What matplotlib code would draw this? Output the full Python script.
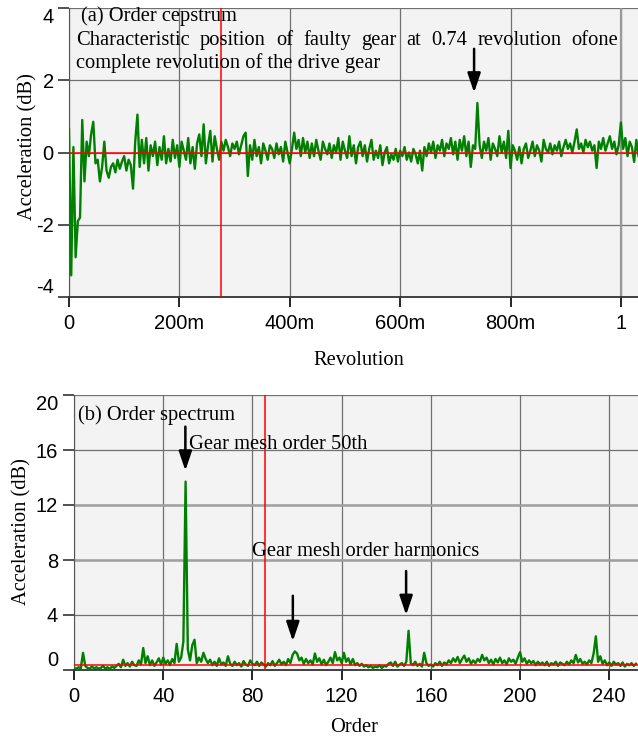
import numpy as np
import matplotlib
matplotlib.use("Agg")
import matplotlib.pyplot as plt

plt.rcParams['font.family'] = ['Liberation Sans', 'DejaVu Sans']

# (a) order cepstrum, one value every 0.004 revolution
cep_step = 0.004
cep_vals = [
    0.65, -3.4, 0.15, -2.9, -1.9, -1.8, 0.9, -0.8, 0.3, -0.1,
    0.5, 0.85, -0.3, -0.2, -0.8, -0.4, 0.3, -0.5, -0.7, -0.4,
    -0.3, -0.55, -0.2, -0.45, -0.25, -0.1, -0.5, -0.2, -0.35, -1.0,
    0.3, 1.05, -0.4, 0.35, -0.3, 0.4, -0.5, 0.2, -0.1, 0.3,
    -0.35, 0.15, -0.2, 0.45, -0.3, 0.1, -0.25, 0.35, -0.15, 0.2,
    -0.4, 0.3, 0.05, -0.2, 0.4, -0.3, 0.15, -0.45, 0.25, 0.5,
    -0.1, 0.78, -0.3, 0.2, 0.6, -0.25, 0.45, 0.1, -0.2, 0.3,
    0.05, 0.35, 0.15, -0.1, 0.25, 0.1, 0.3, -0.05, 0.2, 0.45,
    0.55, -0.65, 0.2, -0.2, 0.35, -0.1, 0.15, -0.3, 0.25, 0.05,
    -0.2, 0.2, 0.1, -0.15, 0.25, -0.05, 0.15, -0.25, 0.3, 0.0,
    -0.3, 0.1, 0.55, 0.1, 0.35, -0.1, 0.4, 0.0, 0.3, -0.15,
    0.25, -0.1, 0.35, 0.05, -0.2, 0.3, 0.1, -0.05, 0.25, -0.15,
    0.2, 0.0, 0.4, -0.2, 0.3, 0.05, -0.15, 0.45, -0.1, 0.2,
    -0.3, 0.15, 0.3, -0.1, 0.2, -0.25, 0.1, 0.35, -0.2, 0.05,
    -0.15, 0.2, -0.35, 0.0, 0.15, -0.3, -0.05, -0.2, 0.1, -0.25,
    0.05, -0.1, 0.15, -0.2, 0.0, -0.25, 0.1, -0.05, -0.3, 0.05,
    -0.5, 0.15, -0.1, 0.25, 0.0, 0.3, -0.15, 0.2, 0.05, 0.35,
    -0.1, 0.25, 0.1, 0.4, -0.05, 0.3, -0.2, 0.35, 0.05, 0.45,
    -0.1, 0.3, -0.4, 0.2, 0.1, 1.37, 0.2, -0.15, 0.3, 0.05,
    0.4, -0.2, 0.25, 0.1, -0.1, 0.45, 0.0, 0.3, -0.15, 0.6,
    -0.43, 0.2, 0.05, -0.2, 0.15, -0.3, 0.1, 0.25, -0.15, 0.05,
    0.3, -0.1, 0.2, 0.05, -0.25, 0.35, 0.1, 0.0, 0.25, -0.05,
    0.2, 0.05, 0.3, -0.1, 0.15, 0.35, 0.1, 0.25, 0.0, 0.3,
    0.64, 0.1, 0.25, 0.0, 0.35, 0.15, 0.3, 0.05, 0.2, -0.43,
    0.3, 0.1, 0.4, 0.05, 0.25, 0.45, 0.1, 0.3, -0.05, 0.2,
    0.83, 0.1, 0.4, -0.1, 0.3, 0.15, -0.26, 0.35, -0.1,
]
cep_x = np.arange(len(cep_vals)) * cep_step

# (b) order spectrum, one value per order
spec_vals = [
    0.15, 0.1, 0.2, 0.12, 1.25, 0.3, 0.15, 0.1, 0.25, 0.12,
    0.2, 0.1, 0.15, 0.3, 0.1, 0.2, 0.08, 0.25, 0.15, 0.3,
    0.45, 0.2, 0.75, 0.3, 0.5, 0.25, 0.6, 0.35, 0.3, 0.7,
    0.4, 1.6, 0.5, 1.0, 0.35, 0.7, 0.3, 0.55, 0.85, 0.4,
    0.9, 0.45, 0.7, 0.35, 0.8, 0.5, 1.9, 0.6, 0.9, 2.05,
    13.7, 1.5, 0.7, 1.8, 2.2, 0.5, 0.9, 0.6, 1.25, 0.8,
    0.5, 0.75, 0.35, 0.6, 0.3, 0.85, 0.4, 0.55, 0.3, 1.0,
    0.45, 0.3, 0.6, 0.35, 0.5, 0.25, 0.65, 0.4, 0.3, 0.7,
    0.45, 0.35, 0.6, 0.3, 0.55, 0.4, 0.25, 0.5, 0.35, 0.65,
    0.3, 0.5, 0.75, 0.4, 0.6, 0.35, 0.8, 0.5, 1.1, 1.35,
    1.2, 0.7, 0.9, 0.45, 0.8, 0.5, 0.7, 0.4, 1.2, 0.6,
    0.85, 0.4, 0.75, 0.35, 0.6, 0.9, 0.5, 1.3, 0.7, 0.9,
    0.5, 1.25, 0.6, 0.85, 0.4, 0.8, 0.35, 0.5, 0.3, 0.45,
    0.25, 0.35, 0.2, 0.3, 0.15, 0.25, 0.2, 0.35, 0.15, 0.3,
    0.25, 0.45, 0.55, 0.3, 0.6, 0.25, 0.4, 0.5, 0.3, 0.6,
    2.85, 0.5, 0.35, 0.6, 0.3, 0.45, 0.25, 1.25, 0.5, 0.3,
    0.4, 0.25, 0.5, 0.35, 0.6, 0.3, 0.55, 0.4, 0.7, 0.5,
    0.85, 0.6, 0.95, 0.5, 0.8, 1.05, 0.6, 0.85, 0.45, 0.7,
    0.5, 0.8, 0.6, 1.1, 0.7, 0.9, 0.5, 0.75, 0.4, 0.8,
    0.55, 0.9, 0.5, 0.7, 0.4, 0.85, 0.6, 0.75, 0.45, 0.9,
    1.3, 0.6, 0.85, 0.45, 0.7, 0.5, 0.65, 0.35, 0.6, 0.4,
    0.55, 0.35, 0.6, 0.3, 0.5, 0.4, 0.6, 0.3, 0.55, 0.45,
    0.35, 0.6, 0.4, 0.7, 0.5, 1.1, 0.55, 0.8, 0.45, 0.6,
    0.4, 0.7, 0.5, 1.2, 2.45, 0.6, 1.0, 0.45, 0.7, 0.35,
    0.55, 0.3, 0.6, 0.4, 0.5, 0.3, 0.55, 0.25, 0.45, 0.35,
    0.5, 0.3, 0.45,
]
spec_x = np.arange(len(spec_vals))

cep_ticks = [0, 0.2, 0.4, 0.6, 0.8, 1.0]
cep_ticklabels = ['0', '200m', '400m', '600m', '800m', '1']
cep_yticks = [-4, -2, 0, 2, 4]
spec_ticks = [0, 40, 80, 120, 160, 200, 240]
spec_yticks = [0, 4, 8, 12, 16, 20]

# cursor lines and arrows (x, y_tail, y_tip)
cep_cursor = (0.275, 0.0)
spec_cursor = (85.5, 0.34)
cep_arrows = [(0.734, 2.87, 1.66)]
spec_arrows = [(49.9, 17.7, 14.5), (98.1, 5.4, 2.1), (148.9, 7.2, 4.0)]

W, H = 638, 738
fig = plt.figure(figsize=(W / 100, H / 100), dpi=100)
ax1 = fig.add_axes([69 / W, 1 - 297 / H, (W - 69) / W, 289 / H])
ax2 = fig.add_axes([73.5 / W, 1 - 670 / H, (W - 73.5) / W, 275 / H])

GREEN = '#008000'
serif = ['Liberation Serif', 'DejaVu Serif']
fs_txt = 14.8
fs_tick = 14.5


def style(ax):
    ax.set_facecolor('#f3f3f3')
    ax.grid(True, color='#707070', lw=0.9)
    ax.set_axisbelow(True)
    for s in ['top', 'right']:
        ax.spines[s].set_visible(False)
    ax.spines['left'].set_color('#555555')
    ax.spines['bottom'].set_color('#333333')
    ax.spines['bottom'].set_linewidth(1.3)
    ax.tick_params(axis='x', direction='out', length=7.5, width=1.2,
                   labelsize=fs_tick, pad=5)
    ax.tick_params(axis='y', direction='out', length=8, width=1.2,
                   color='#333333', labelsize=fs_tick, pad=3)


def arrow(ax, x, y0, y1):
    ax.annotate('', xy=(x, y1), xytext=(x, y0),
                arrowprops=dict(arrowstyle='-|>,head_length=0.65,head_width=0.22',
                                color='black', lw=1.8, mutation_scale=18,
                                shrinkA=0, shrinkB=0))


# ---- (a) ----
style(ax1)
ax1.axvline(1.0, color='#9a9a9a', lw=1.6, zorder=1.5)
ax1.plot(cep_x, cep_vals, color=GREEN, lw=1.7, zorder=3)
ax1.axhline(cep_cursor[1], color='#ff0000', lw=1.1, zorder=4)
ax1.axvline(cep_cursor[0], color='#ff0000', lw=1.1, zorder=4)
ax1.set_xlim(0, 1.031)
ax1.set_ylim(-4, 4)
ax1.set_xticks(cep_ticks)
ax1.set_xticklabels(cep_ticklabels)
ax1.set_yticks(cep_yticks)
ax1.set_yticklabels([str(v) for v in cep_yticks])
for a in cep_arrows:
    arrow(ax1, *a)
ax1.set_xlabel('Revolution', family=serif, fontsize=fs_txt)
ax1.xaxis.set_label_coords(0.509, -0.187)
ax1.set_ylabel('Acceleration (dB)', family=serif, fontsize=fs_txt)
ax1.yaxis.set_label_coords(-0.056, 0.521)

# ---- (b) ----
style(ax2)
for yv in (8, 12):
    ax2.axhline(yv, color='#a0a0a0', lw=1.8, zorder=1.5)
ax2.plot(spec_x, spec_vals, color=GREEN, lw=1.7, zorder=3)
ax2.axhline(spec_cursor[1], color='#ff0000', lw=1.1, zorder=4)
ax2.axvline(spec_cursor[0], color='#ff0000', lw=1.1, zorder=4)
ax2.set_xlim(-0.27, 252.9)
ax2.set_ylim(0, 20)
ax2.set_xticks(spec_ticks)
ax2.set_yticks(spec_yticks)
ax2.set_yticklabels([str(v) for v in spec_yticks])
for a in spec_arrows:
    arrow(ax2, *a)
ax2.set_xlabel('Order', family=serif, fontsize=fs_txt)
ax2.xaxis.set_label_coords(0.498, -0.175)
ax2.set_ylabel('Acceleration (dB)', family=serif, fontsize=fs_txt)
ax2.yaxis.set_label_coords(-0.075, 0.502)

# end labels sit inside the axis range
for ax in (ax1, ax2):
    labs = ax.get_yticklabels()
    labs[0].set_va('bottom')
    labs[-1].set_va('top')


def ftext(x, y, s, **kw):
    # x, y in pixels from top-left, y is baseline
    return fig.text(x / W, 1 - y / H, s, family=serif, fontsize=fs_txt,
                    va='baseline', ha='left', **kw)


ftext(80.7, 21.5, '(a) Order cepstrum')
ftext(76.4, 68.3, 'complete revolution of the drive gear')
ftext(78.3, 420, '(b) Order spectrum')
ftext(189.3, 449.3, 'Gear mesh order 50th')
ftext(252, 556, 'Gear mesh order harmonics')

# justified first line of the note
words = 'Characteristic position of faulty gear at 0.74 revolution ofone'.split()
r = fig.canvas.get_renderer()
objs = [ftext(0, 45, w) for w in words]
widths = [o.get_window_extent(r).width for o in objs]
x0, x1 = 76.4, 618
gap = (x1 - x0 - sum(widths)) / (len(words) - 1)
xpos = x0
for o, wd in zip(objs, widths):
    o.set_x(xpos / W)
    xpos += wd + gap

fig.savefig('out.png', dpi=100)
